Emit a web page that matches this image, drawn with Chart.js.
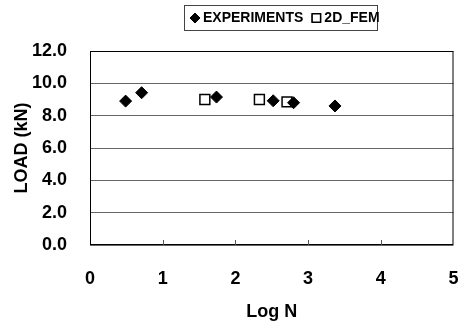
<!DOCTYPE html>
<html>
<head>
<meta charset="utf-8">
<script src="https://cdn.jsdelivr.net/npm/chart.js@4/dist/chart.umd.min.js"></script>
<style>
  html, body { margin: 0; padding: 0; background: #fff; }
  #wrap { width: 462px; height: 324px; position: relative; }
</style>
</head>
<body>
<div id="wrap"><canvas id="chart"></canvas></div>
<script>
// dados
const SERIES = ['EXPERIMENTS', '2D_FEM'];
const EXP_LOGN = [0.49, 0.71, 1.74, 2.52, 2.80, 3.37];
const EXP_LOAD = [8.9, 9.42, 9.15, 8.92, 8.8, 8.6];
const FEM_LOGN = [1.58, 2.33, 2.71];
const FEM_LOAD = [9.0, 9.0, 8.85];
const X_TICKS = [0, 1, 2, 3, 4, 5];
const Y_TICKS = [0, 2, 4, 6, 8, 10, 12];

const FONT = 'Liberation Sans, Arial, sans-serif';
const toPts = (xs, ys) => xs.map((x, i) => ({ x, y: ys[i] }));

// moldura da área do gráfico + traços internos no eixo X
const frame = {
    id: 'frame',
    afterDraw(chart) {
        const { ctx, chartArea: a, scales } = chart;
        ctx.save();
        ctx.strokeStyle = '#000';
        ctx.lineWidth = 1;
        ctx.strokeRect(a.left + 0.5, a.top + 0.5, a.right - a.left - 1, a.bottom - a.top - 1);
        ctx.strokeStyle = '#555';
        X_TICKS.slice(1, -1).forEach(v => {
            const px = Math.round(scales.x.getPixelForValue(v)) + 0.5;
            ctx.beginPath();
            ctx.moveTo(px, a.bottom);
            ctx.lineTo(px, a.bottom - 5);
            ctx.stroke();
        });
        ctx.restore();
    }
};

// legenda com caixa, posicionada como no original
const legendBox = {
    id: 'legendBox',
    afterDraw(chart) {
        const { ctx } = chart;
        const box = { left: 184, top: 5, width: 193, height: 25 };
        ctx.save();
        ctx.strokeStyle = '#444';
        ctx.lineWidth = 1;
        ctx.strokeRect(box.left + 0.5, box.top + 0.5, box.width, box.height);
        ctx.font = `bold 14px ${FONT}`;
        ctx.fillStyle = '#000';
        ctx.textBaseline = 'middle';
        const cy = box.top + box.height / 2 + 0.5;
        let x = box.left + 7;
        chart.data.datasets.forEach((ds, i) => {
            const r = i === 0 ? 5 : 6;
            Chart.helpers.drawPoint(ctx, {
                pointStyle: ds.pointStyle, radius: r, borderWidth: ds.borderWidth
            }, x + 4, cy);
            ctx.fillStyle = ds.backgroundColor;
            ctx.strokeStyle = '#000';
            ctx.lineWidth = ds.borderWidth;
            ctx.fill();
            ctx.stroke();
            ctx.fillStyle = '#000';
            ctx.fillText(ds.label, x + 12, cy);
            x += 12 + ctx.measureText(ds.label).width + 9;
        });
        ctx.restore();
    }
};

new Chart(document.getElementById('chart'), {
    type: 'scatter',
    data: {
        datasets: [
            {
                label: SERIES[0],
                data: toPts(EXP_LOGN, EXP_LOAD),
                pointStyle: 'rectRot',
                pointRadius: 6,
                backgroundColor: '#000',
                borderColor: '#000',
                borderWidth: 1,
                order: 0,
            },
            {
                label: SERIES[1],
                data: toPts(FEM_LOGN, FEM_LOAD),
                pointStyle: 'rect',
                pointRadius: 7,
                backgroundColor: '#fff',
                borderColor: '#000',
                borderWidth: 1.5,
                order: 1,
            }
        ]
    },
    options: {
        responsive: true,
        maintainAspectRatio: false,
        animation: false,
        layout: { padding: { top: 51, right: 7, left: 0, bottom: 0 } },
        plugins: {
            legend: { display: false },
            tooltip: { enabled: false },
        },
        scales: {
            x: {
                type: 'linear',
                min: 0, max: 5,
                afterBuildTicks: s => { s.ticks = X_TICKS.map(v => ({ value: v })); },
                afterFit: s => { s.height = 79; s.paddingRight = 5; s.paddingLeft = 5; },
                grid: { drawOnChartArea: false, drawTicks: false },
                border: { display: false },
                ticks: {
                    padding: 23,
                    color: '#000',
                    font: { family: FONT, size: 18, weight: 'bold' },
                    callback: v => String(v),
                },
                title: {
                    display: true,
                    text: 'Log N',
                    color: '#000',
                    font: { family: FONT, size: 18, weight: 'bold' },
                    padding: { top: 0, bottom: 1 },
                }
            },
            y: {
                type: 'linear',
                min: 0, max: 12,
                afterBuildTicks: s => { s.ticks = Y_TICKS.map(v => ({ value: v })); },
                afterFit: s => { s.width = 90; },
                grid: { color: '#666', lineWidth: 1, drawTicks: false },
                border: { display: false },
                ticks: {
                    padding: 23,
                    color: '#000',
                    font: { family: FONT, size: 18, weight: 'bold' },
                    callback: v => v.toFixed(1),
                },
                title: {
                    display: true,
                    text: 'LOAD (kN)',
                    color: '#000',
                    font: { family: FONT, size: 18, weight: 'bold' },
                    padding: { top: 11, bottom: 0 },
                }
            }
        }
    },
    plugins: [frame, legendBox]
});
</script>
</body>
</html>
